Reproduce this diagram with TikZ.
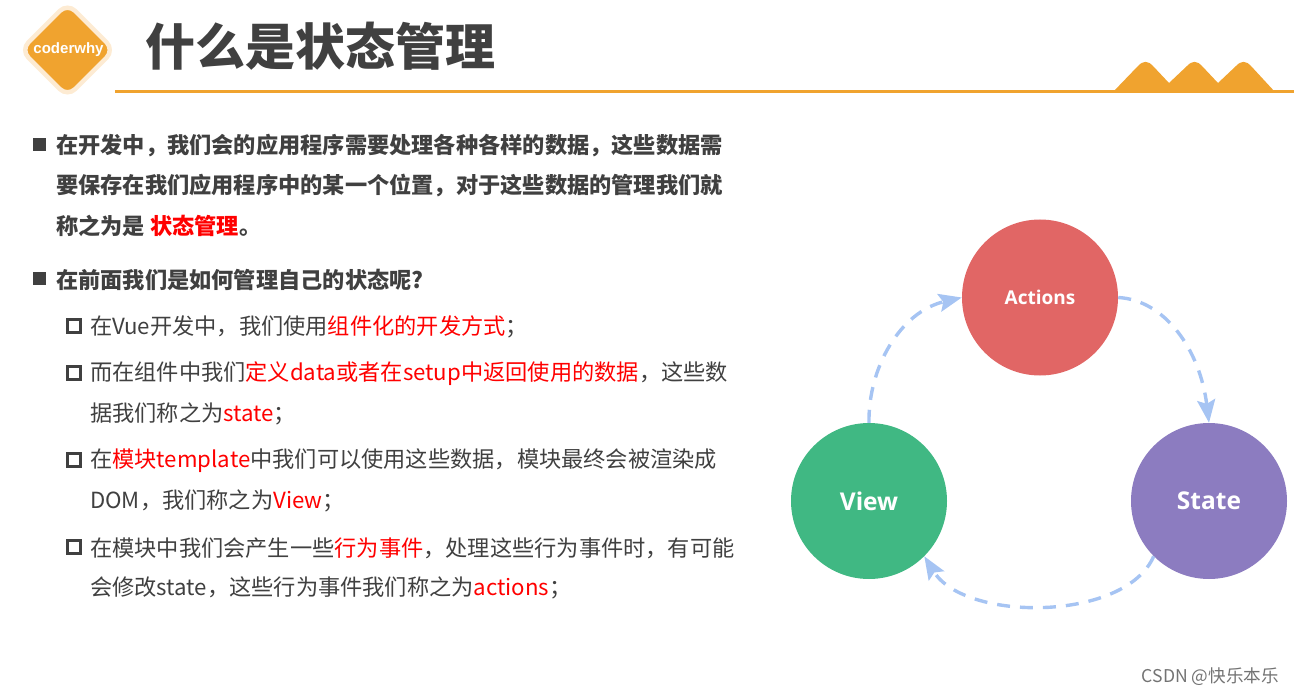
\documentclass[tikz,border=0pt]{standalone}
\usepackage{fontspec}
\setmainfont{Noto Sans CJK SC}
\newfontfamily\latinbold{Open Sans}
\newfontfamily\arialfont{Liberation Sans}
\usetikzlibrary{arrows.meta}
\definecolor{txt}{HTML}{404040}
\definecolor{hot}{HTML}{FF0000}
\definecolor{brand}{HTML}{F0A32F}
\definecolor{brandlight}{HTML}{FDEBD3}
\definecolor{flow}{HTML}{A6C4F3}
\definecolor{actionsfill}{HTML}{E16665}
\definecolor{viewfill}{HTML}{40B883}
\definecolor{statefill}{HTML}{8C7CC0}
\newcommand{\hl}[1]{\textcolor{hot}{#1}}
\tikzset{
  headline/.style={anchor=west,inner sep=0pt,text=txt,font=\fontsize{22.22}{26}\selectfont\bfseries},
  subline/.style={anchor=west,inner sep=0pt,text=txt,font=\fontsize{22.22}{26}\selectfont},
  bigdot/.style={draw=none,fill=txt,minimum size=13pt,inner sep=0pt},
  smallbox/.style={draw=txt,line width=3pt,fill=white,minimum size=13pt,inner sep=0pt},
  stage/.style={circle,minimum size=156pt,inner sep=0pt,text=white},
  flowline/.style={draw=flow,line width=3.4pt,dash pattern=on 13pt off 10pt,-{Stealth[length=23pt,width=18pt,inset=4pt]}},
}
\begin{document}
\begin{tikzpicture}[x=1pt,y=-1pt]
\useasboundingbox (0,0) rectangle (1294,695);
% logo
\draw[fill=brand,draw=brandlight,line width=4.5pt,rounded corners=11pt]
  (67.5,3.2) -- (114.3,50) -- (67.5,96.8) -- (20.7,50) -- cycle;
\node[inner sep=0pt,text=white,font=\fontsize{15}{16}\selectfont\arialfont\bfseries] (logo) at (68.5,50) {coderwhy};
% title
\node[anchor=west,inner sep=0pt,text=txt,font=\fontsize{50}{56}\selectfont\bfseries] (title) at (145.5,46) {什么是状态管理};
% rule and mountains
\fill[brand] (115,90.5) rectangle (1294,93.5);
\fill[brand] (1113,92) -- (1138,66) .. controls (1143,60.5) and (1148,60.5) .. (1153,66)
  -- (1169,83) -- (1187,66) .. controls (1192,60.5) and (1197,60.5) .. (1202,66)
  -- (1218,83) -- (1236,66) .. controls (1241,60.5) and (1246,60.5) .. (1251,66)
  -- (1275,92) -- cycle;
% bullets and text
\node[bigdot] (b1) at (39.5,145) {};
\node[headline] (t1) at (56,145.8) {在开发中，我们会的应用程序需要处理各种各样的数据，这些数据需};
\node[headline] (t1b) at (56,185.8) {要保存在我们应用程序中的某一个位置，对于这些数据的管理我们就};
\node[headline] (t1c) at (56,225.8) {称之为是 \hl{状态管理}。};
\node[bigdot] (b2) at (39.5,279) {};
\node[headline] (t2) at (56,279.8) {在前面我们是如何管理自己的状态呢?};
\node[smallbox] (s1) at (73.5,326) {};
\node[subline] (u1) at (90,326.8) {在Vue开发中，我们使用\hl{组件化的开发方式}；};
\node[smallbox] (s2) at (73.5,373) {};
\node[subline] (u2) at (90,373.8) {而在组件中我们\hl{定义data或者在setup中返回使用的数据}，这些数};
\node[subline] (u2b) at (90,413.8) {据我们称之为\hl{state}；};
\node[smallbox] (s3) at (73.5,460) {};
\node[subline] (u3) at (90,460.8) {在\hl{模块template}中我们可以使用这些数据，模块最终会被渲染成};
\node[subline] (u3b) at (90,500.8) {DOM，我们称之为\hl{View}；};
\node[smallbox] (s4) at (73.5,547) {};
\node[subline] (u4) at (90,547.8) {在模块中我们会产生一些\hl{行为事件}，处理这些行为事件时，有可能};
\node[subline] (u4b) at (90,587.8) {会修改state，这些行为事件我们称之为\hl{actions}；};
% cycle
\node[stage,fill=actionsfill,font=\fontsize{19}{24}\selectfont\latinbold\bfseries] (actions) at (1040,297.5) {Actions};
\node[stage,fill=viewfill,font=\fontsize{24.5}{30}\selectfont\latinbold\bfseries] (view) at (869,501) {View};
\node[stage,fill=statefill,font=\fontsize{24.5}{30}\selectfont\latinbold\bfseries] (state) at (1209,501) {State};
\draw[flowline] (view.north) .. controls (868,368) and (900,312) .. (actions.west);
\draw[flowline] (actions.east) .. controls (1165,300) and (1200,350) .. (state.north);
\draw[flowline] (state.225) .. controls (1125,622) and (965,622) .. (view.-45);
% watermark
\node[anchor=east,inner sep=0pt,text=black!55,font=\fontsize{17.6}{20}\selectfont] (mark) at (1279,677) {CSDN @快乐本乐};
\end{tikzpicture}
\end{document}
